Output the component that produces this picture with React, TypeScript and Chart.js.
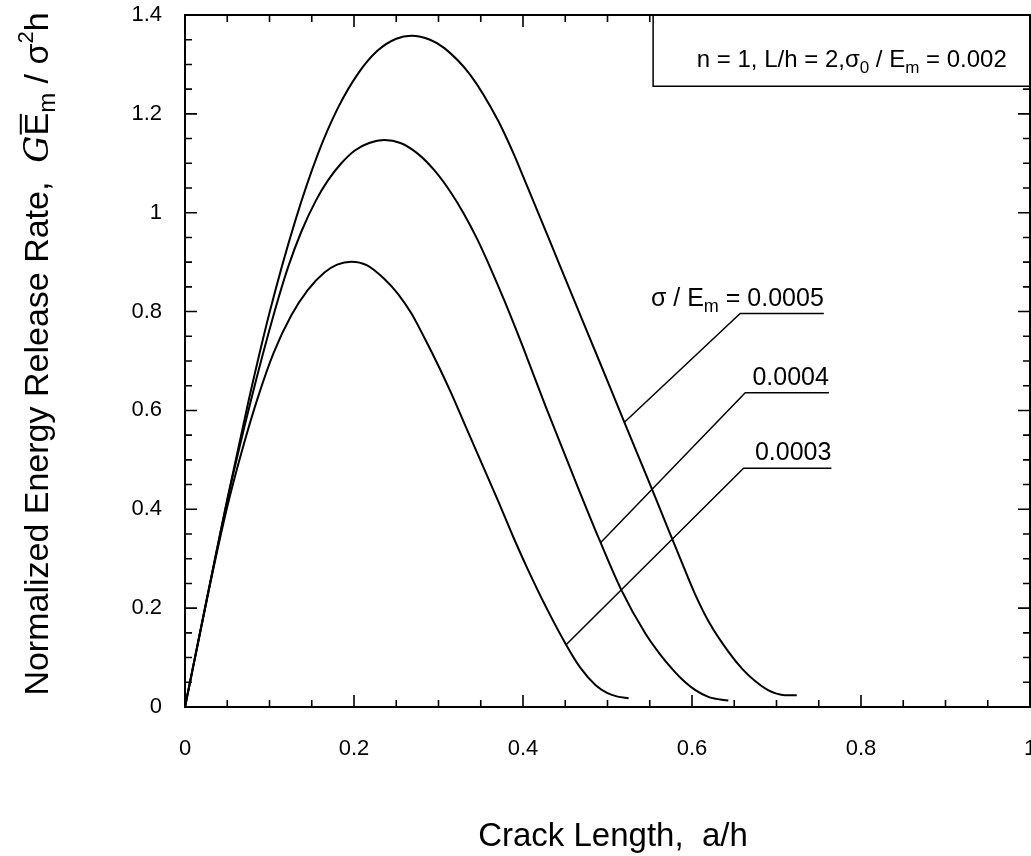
import React, { useEffect, useRef } from "react";
import { Chart, registerables } from "chart.js";

Chart.register(...registerables);

// ---------- data ----------
const A_0005 = [0, 0.025, 0.05, 0.075, 0.1, 0.13, 0.157, 0.181, 0.205, 0.228, 0.25, 0.268, 0.29, 0.307, 0.338, 0.37, 0.39, 0.4, 0.43, 0.46, 0.49, 0.52, 0.549, 0.573, 0.59, 0.604, 0.62, 0.643, 0.66, 0.675, 0.69, 0.7, 0.71, 0.724];
const G_0005 = [0, 0.21, 0.42, 0.6175, 0.7975, 0.981, 1.1175, 1.212, 1.282, 1.328, 1.352, 1.358, 1.35, 1.333, 1.278, 1.188, 1.115, 1.074, 0.95, 0.825, 0.701, 0.576, 0.456, 0.355, 0.284, 0.227, 0.172, 0.112, 0.076, 0.052, 0.034, 0.027, 0.024, 0.024];

const A_0004 = [0, 0.025, 0.05, 0.078, 0.106, 0.122, 0.138, 0.155, 0.169, 0.185, 0.201, 0.218, 0.236, 0.255, 0.275, 0.295, 0.315, 0.33, 0.346, 0.362, 0.378, 0.4, 0.427, 0.462, 0.49, 0.516, 0.545, 0.562, 0.577, 0.59, 0.604, 0.62, 0.643];
const G_0004 = [0, 0.212, 0.418, 0.62, 0.8, 0.89, 0.963, 1.025, 1.065, 1.1, 1.126, 1.141, 1.147, 1.141, 1.12, 1.086, 1.04, 0.998, 0.946, 0.886, 0.822, 0.728, 0.607, 0.457, 0.34, 0.238, 0.148, 0.107, 0.076, 0.053, 0.034, 0.02, 0.013];

const A_0003 = [0, 0.025, 0.05, 0.067, 0.086, 0.105, 0.126, 0.145, 0.165, 0.18, 0.197, 0.215, 0.236, 0.252, 0.268, 0.283, 0.3, 0.315, 0.33, 0.346, 0.37, 0.388, 0.405, 0.427, 0.451, 0.468, 0.486, 0.5, 0.512, 0.525];
const G_0003 = [0, 0.211, 0.405, 0.516, 0.625, 0.717, 0.793, 0.843, 0.879, 0.895, 0.901, 0.894, 0.866, 0.836, 0.796, 0.748, 0.69, 0.635, 0.576, 0.513, 0.419, 0.346, 0.281, 0.203, 0.126, 0.079, 0.044, 0.028, 0.021, 0.0176];

const SERIES_NAMES = ["0.0005", "0.0004", "0.0003"];

const X_TICKS = [0, 0.2, 0.4, 0.6, 0.8, 1];
const X_TICK_LABELS = ["0", "0.2", "0.4", "0.6", "0.8", "1"];
const Y_TICKS = [0, 0.2, 0.4, 0.6, 0.8, 1, 1.2, 1.4];
const Y_TICK_LABELS = ["0", "0.2", "0.4", "0.6", "0.8", "1", "1.2", "1.4"];
const MINOR_STEP = 0.05;

// leader lines: curve point -> elbow -> end of underline (data coordinates)
const LEADER_0005 = [[0.52, 0.576], [0.657, 0.796], [0.756, 0.796]];
const LEADER_0004 = [[0.492, 0.333], [0.663, 0.636], [0.762, 0.636]];
const LEADER_0003 = [[0.451, 0.126], [0.661, 0.483], [0.765, 0.483]];

const FONT = "'Liberation Sans', Arial, Helvetica, sans-serif";

type Seg = { t: string; size?: number; dy?: number; family?: string; style?: string; over?: boolean };

function segFont(s: Seg, base: number) {
  return `${s.style ? s.style + " " : ""}${s.size ?? base}px ${s.family ?? FONT}`;
}

function richWidth(ctx: CanvasRenderingContext2D, segs: Seg[], base: number) {
  let w = 0;
  for (const s of segs) {
    ctx.font = segFont(s, base);
    w += ctx.measureText(s.t).width;
  }
  return w;
}

function drawRich(ctx: CanvasRenderingContext2D, segs: Seg[], x: number, y: number, align: "left" | "center" | "right", base: number) {
  const w = richWidth(ctx, segs, base);
  let cx = align === "left" ? x : align === "center" ? x - w / 2 : x - w;
  ctx.textAlign = "left";
  ctx.textBaseline = "alphabetic";
  for (const s of segs) {
    ctx.font = segFont(s, base);
    const sw = ctx.measureText(s.t).width;
    ctx.fillText(s.t, cx, y + (s.dy ?? 0));
    if (s.over) {
      const top = y + (s.dy ?? 0) - (s.size ?? base) * 0.8;
      ctx.beginPath();
      ctx.lineWidth = 2;
      ctx.moveTo(cx + 1, top);
      ctx.lineTo(cx + sw - 1, top);
      ctx.stroke();
    }
    cx += sw;
  }
}

const decorPlugin = {
  id: "decor",
  afterDatasetsDraw(chart: any) {
    const { ctx, chartArea: a, scales } = chart;
    const xs = scales.x;
    const ys = scales.y;
    const px = (v: number) => xs.getPixelForValue(v);
    const py = (v: number) => ys.getPixelForValue(v);
    ctx.save();
    ctx.strokeStyle = "#000";
    ctx.fillStyle = "#000";

    // frame
    ctx.lineWidth = 2;
    ctx.strokeRect(a.left, a.top, a.right - a.left, a.bottom - a.top);

    // inward ticks on all four sides
    ctx.lineWidth = 1.6;
    const nx = Math.round((xs.max - xs.min) / MINOR_STEP);
    for (let i = 0; i <= nx; i++) {
      const v = xs.min + i * MINOR_STEP;
      const major = X_TICKS.some((t) => Math.abs(t - v) < 1e-6);
      const len = major ? 12 : 7;
      const x = px(v);
      ctx.beginPath();
      ctx.moveTo(x, a.bottom);
      ctx.lineTo(x, a.bottom - len);
      ctx.moveTo(x, a.top);
      ctx.lineTo(x, a.top + len);
      ctx.stroke();
    }
    const ny = Math.round((ys.max - ys.min) / MINOR_STEP);
    for (let i = 0; i <= ny; i++) {
      const v = ys.min + i * MINOR_STEP;
      const major = Y_TICKS.some((t) => Math.abs(t - v) < 1e-6);
      const len = major ? 12 : 7;
      const y = py(v);
      ctx.beginPath();
      ctx.moveTo(a.left, y);
      ctx.lineTo(a.left + len, y);
      ctx.moveTo(a.right, y);
      ctx.lineTo(a.right - len, y);
      ctx.stroke();
    }

    // parameter box
    const bx = px(0.554);
    const by = py(1.256);
    ctx.fillStyle = "#fff";
    ctx.fillRect(bx, a.top + 1, a.right - bx - 1, by - a.top - 1);
    ctx.fillStyle = "#000";
    ctx.lineWidth = 1.5;
    ctx.beginPath();
    ctx.moveTo(bx, a.top);
    ctx.lineTo(bx, by);
    ctx.lineTo(a.right, by);
    ctx.stroke();
    drawRich(
      ctx,
      [
        { t: "n = 1, L/h = 2,σ" },
        { t: "0", size: 17, dy: 6 },
        { t: " / E" },
        { t: "m", size: 17, dy: 6 },
        { t: " = 0.002" },
      ],
      px(0.6057),
      py(1.295),
      "left",
      24
    );

    // leader lines + labels
    ctx.lineWidth = 1.5;
    const leaders = [LEADER_0005, LEADER_0004, LEADER_0003];
    leaders.forEach((L) => {
      ctx.beginPath();
      ctx.moveTo(px(L[0][0]), py(L[0][1]));
      ctx.lineTo(px(L[1][0]), py(L[1][1]));
      ctx.lineTo(px(L[2][0]), py(L[2][1]));
      ctx.stroke();
    });
    const lab = (L: number[][]) => [px(L[2][0]), py(L[2][1]) - 8];
    let [lx, ly] = lab(LEADER_0005);
    drawRich(
      ctx,
      [
        { t: "σ / E" },
        { t: "m", size: 18, dy: 6 },
        { t: " = " + SERIES_NAMES[0] },
      ],
      lx,
      ly,
      "right",
      25
    );
    [lx, ly] = lab(LEADER_0004);
    drawRich(ctx, [{ t: SERIES_NAMES[1] }], lx, ly, "right", 25);
    [lx, ly] = lab(LEADER_0003);
    drawRich(ctx, [{ t: SERIES_NAMES[2] }], lx, ly, "right", 25);

    // axis titles
    drawRich(ctx, [{ t: "Crack Length,  a/h" }], 613, 846, "center", 33);

    ctx.save();
    ctx.translate(48, 354);
    ctx.rotate(-Math.PI / 2);
    drawRich(
      ctx,
      [
        { t: "Normalized Energy Release Rate,  " },
        { t: "G", family: "'DejaVu Serif', 'Liberation Serif', serif", style: "italic" },
        { t: "E", over: true },
        { t: "m", size: 24, dy: 7 },
        { t: " / σ" },
        { t: "2", size: 22, dy: -15 },
        { t: "h" },
      ],
      0,
      0,
      "center",
      34
    );
    ctx.restore();

    ctx.restore();
  },
};

export default function App() {
  const ref = useRef<HTMLCanvasElement | null>(null);

  useEffect(() => {
    if (!ref.current) return;
    const mk = (xs: number[], ys: number[], label: string) => ({
      label,
      data: xs.map((x, i) => ({ x, y: ys[i] })),
      borderColor: "#000",
      backgroundColor: "#000",
      borderWidth: 2,
      pointRadius: 0,
      fill: false,
      cubicInterpolationMode: "monotone" as const,
    });
    const tickFont = { family: FONT, size: 22 };
    const chart = new Chart(ref.current, {
      type: "line",
      data: {
        datasets: [
          mk(A_0005, G_0005, SERIES_NAMES[0]),
          mk(A_0004, G_0004, SERIES_NAMES[1]),
          mk(A_0003, G_0003, SERIES_NAMES[2]),
        ],
      },
      options: {
        responsive: false,
        devicePixelRatio: 1,
        animation: false,
        layout: { padding: { top: 15, right: 1, left: 0, bottom: 0 } },
        plugins: { legend: { display: false }, tooltip: { enabled: false } },
        scales: {
          x: {
            type: "linear",
            min: 0,
            max: 1,
            grid: { display: false, drawTicks: false },
            border: { display: false },
            afterBuildTicks: (s: any) => {
              s.ticks = X_TICKS.map((v) => ({ value: v }));
            },
            ticks: {
              color: "#000",
              font: tickFont,
              padding: 29,
              maxRotation: 0,
              autoSkip: false,
              callback: (_v: any, i: number) => X_TICK_LABELS[i],
            },
            afterFit: (s: any) => {
              s.height = 149;
              s.paddingLeft = 0;
              s.paddingRight = 0;
            },
          },
          y: {
            type: "linear",
            min: 0,
            max: 1.4,
            grid: { display: false, drawTicks: false },
            border: { display: false },
            afterBuildTicks: (s: any) => {
              s.ticks = Y_TICKS.map((v) => ({ value: v }));
            },
            ticks: {
              color: "#000",
              font: tickFont,
              padding: 23,
              autoSkip: false,
              callback: (_v: any, i: number) => Y_TICK_LABELS[i],
            },
            afterFit: (s: any) => {
              s.width = 185;
              s.paddingTop = 0;
              s.paddingBottom = 0;
            },
          },
        },
      },
      plugins: [decorPlugin],
    });
    return () => chart.destroy();
  }, []);

  return (
    <div style={{ position: "absolute", left: 0, top: 0, width: 1031, height: 856, background: "#fff" }}>
      <canvas ref={ref} width={1031} height={856} style={{ display: "block" }} />
    </div>
  );
}
